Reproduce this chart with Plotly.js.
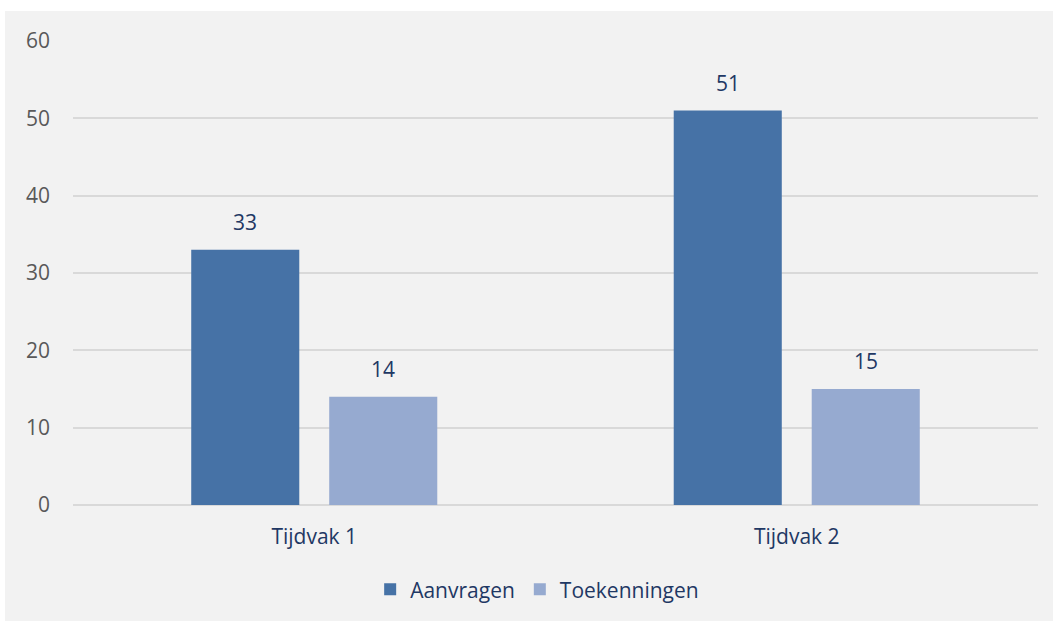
<!DOCTYPE html>
<html><head><meta charset="utf-8">
<script src="https://cdn.plot.ly/plotly-3.0.1.min.js"></script>
<style>html,body{margin:0;padding:0;background:#fff}#c{width:1053px;height:621px}</style>
</head><body><div id="c"></div>
<script>
const categories = ["Tijdvak 1", "Tijdvak 2"];
const seriesNames = ["Aanvragen", "Toekenningen"];
const aanvragen = [33, 51];
const toekenningen = [14, 15];
const yTicks = [0, 10, 20, 30, 40, 50, 60];

const colors = ["#4672A6", "#96AAD0"];
const labelColor = "#1F3864";
const font = "Open Sans, Noto Sans, sans-serif";
const fs = 21;

const traces = [aanvragen, toekenningen].map((vals, i) => ({
  type: "bar", name: seriesNames[i], x: categories, y: vals,
  marker: {color: colors[i]}, hoverinfo: "skip"
}));

const annotations = [];
[aanvragen, toekenningen].forEach((vals, i) => {
  vals.forEach((v, j) => {
    annotations.push({
      x: categories[j], y: v, xref: "x", yref: "y", text: String(v),
      showarrow: false, yanchor: "bottom", yshift: 12,
      xshift: (i === 0 ? -1 : 1) * 69,
      font: {family: font, size: fs, color: labelColor}
    });
  });
});

const layout = {
  width: 1053, height: 621,
  margin: {l: 73, r: 15, t: 41, b: 115},
  paper_bgcolor: "#F2F2F2", plot_bgcolor: "rgba(0,0,0,0)",
  barmode: "group", bargap: 0.428, bargroupgap: 0.217,
  font: {family: font, size: fs, color: "#595959"},
  xaxis: {
    type: "category", showgrid: false, zeroline: false, showline: false,
    ticks: "", ticklabelstandoff: 17,
    tickfont: {family: font, size: fs, color: labelColor}
  },
  yaxis: {
    range: [0, 60], tickvals: yTicks, ticktext: yTicks.map(String),
    showgrid: true, gridcolor: "#D9D9D9", gridwidth: 1.8,
    zeroline: true, zerolinecolor: "#D9D9D9", zerolinewidth: 1.8,
    showline: false, ticks: "", ticklabelstandoff: 22,
    tickfont: {family: font, size: fs, color: "#595959"}
  },
  showlegend: true,
  legend: {
    orientation: "h", x: 0.481, xanchor: "center", y: -0.18, yanchor: "middle",
    font: {family: font, size: fs, color: labelColor},
    bgcolor: "rgba(0,0,0,0)", itemwidth: 30
  },
  annotations: annotations,
  shapes: [
    {type: "rect", xref: "paper", yref: "paper", x0: -0.2, x1: 1.2, y0: 1.0645, y1: 1.2,
     fillcolor: "#FFFFFF", line: {width: 0}, layer: "above"},
    {type: "rect", xref: "paper", yref: "paper", x0: -0.2, x1: -0.0705, y0: -0.3, y1: 1.2,
     fillcolor: "#FFFFFF", line: {width: 0}, layer: "above"}
  ]
};

Plotly.newPlot("c", traces, layout, {displayModeBar: false, staticPlot: true});
</script>
</body></html>
